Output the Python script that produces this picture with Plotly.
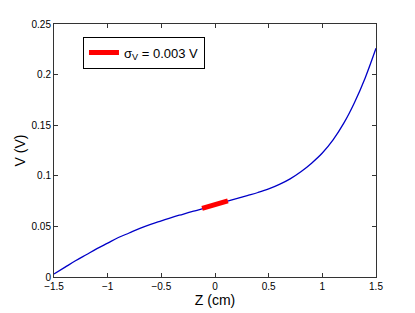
import plotly.graph_objects as go

z_vals = [-1.5, -1.4, -1.3, -1.2, -1.1, -1.0, -0.9, -0.8, -0.7, -0.6, -0.5, -0.4, -0.3, -0.2, -0.1,
          0.0, 0.1, 0.2, 0.3, 0.4, 0.5, 0.6, 0.7, 0.8, 0.9, 1.0, 1.1, 1.2, 1.3, 1.4, 1.5]
v_vals = [0.003, 0.0095, 0.016, 0.022, 0.028, 0.0335, 0.039, 0.0435, 0.048, 0.052, 0.0555, 0.059,
          0.062, 0.065, 0.068, 0.0715, 0.0745, 0.0775, 0.0805, 0.0835, 0.087, 0.0915, 0.097, 0.104,
          0.1125, 0.1225, 0.1355, 0.152, 0.1725, 0.197, 0.226]

seg_z = [-0.12, 0.0, 0.12]
seg_v = [0.0678, 0.0715, 0.0752]

x_ticks = [-1.5, -1, -0.5, 0, 0.5, 1, 1.5]
x_tick_labels = ["−1.5", "−1", "−0.5", "0", "0.5", "1", "1.5"]
y_ticks = [0, 0.05, 0.1, 0.15, 0.2, 0.25]
y_tick_labels = ["0", "0.05", "0.1", "0.15", "0.2", "0.25"]

font = "Liberation Sans, Arial, Helvetica, sans-serif"

fig = go.Figure()
fig.add_trace(go.Scatter(x=z_vals, y=v_vals, mode="lines", line=dict(color="#0000c8", width=1.3, shape="spline", smoothing=1.0),
                         showlegend=False))
fig.add_trace(go.Scatter(x=seg_z, y=seg_v, mode="lines", line=dict(color="#ff0000", width=5),
                         name="σ<sub>V</sub> = 0.003 V", showlegend=True))

axis_common = dict(showline=True, linecolor="#333333", linewidth=1, mirror="allticks",
                   ticks="inside", ticklen=4, tickcolor="#333333", showgrid=False, zeroline=False,
                   automargin=False,
                   tickfont=dict(family=font, size=10, color="black"))

# page body has an 8px margin, so the figure is sized/offset to compensate
fig.update_layout(
    width=407, height=305,
    margin=dict(l=46, r=39, t=16, b=36, autoexpand=False),
    paper_bgcolor="white", plot_bgcolor="white",
    font=dict(family=font, color="black"),
    xaxis=dict(range=[-1.5, 1.5], tickvals=x_ticks, ticktext=x_tick_labels, ticklabelstandoff=0,
               title=dict(text="Z (cm)", font=dict(size=14), standoff=0), **axis_common),
    yaxis=dict(range=[0, 0.25], tickvals=y_ticks, ticktext=y_tick_labels,
               title=dict(text="V (V)", font=dict(size=14), standoff=2), **axis_common),
    legend=dict(x=0.09, y=0.95, xanchor="left", yanchor="top", bordercolor="black", borderwidth=1,
                bgcolor="white", font=dict(size=13, family=font), itemwidth=30,
                tracegroupgap=0),
)

fig.write_html("out.html")
